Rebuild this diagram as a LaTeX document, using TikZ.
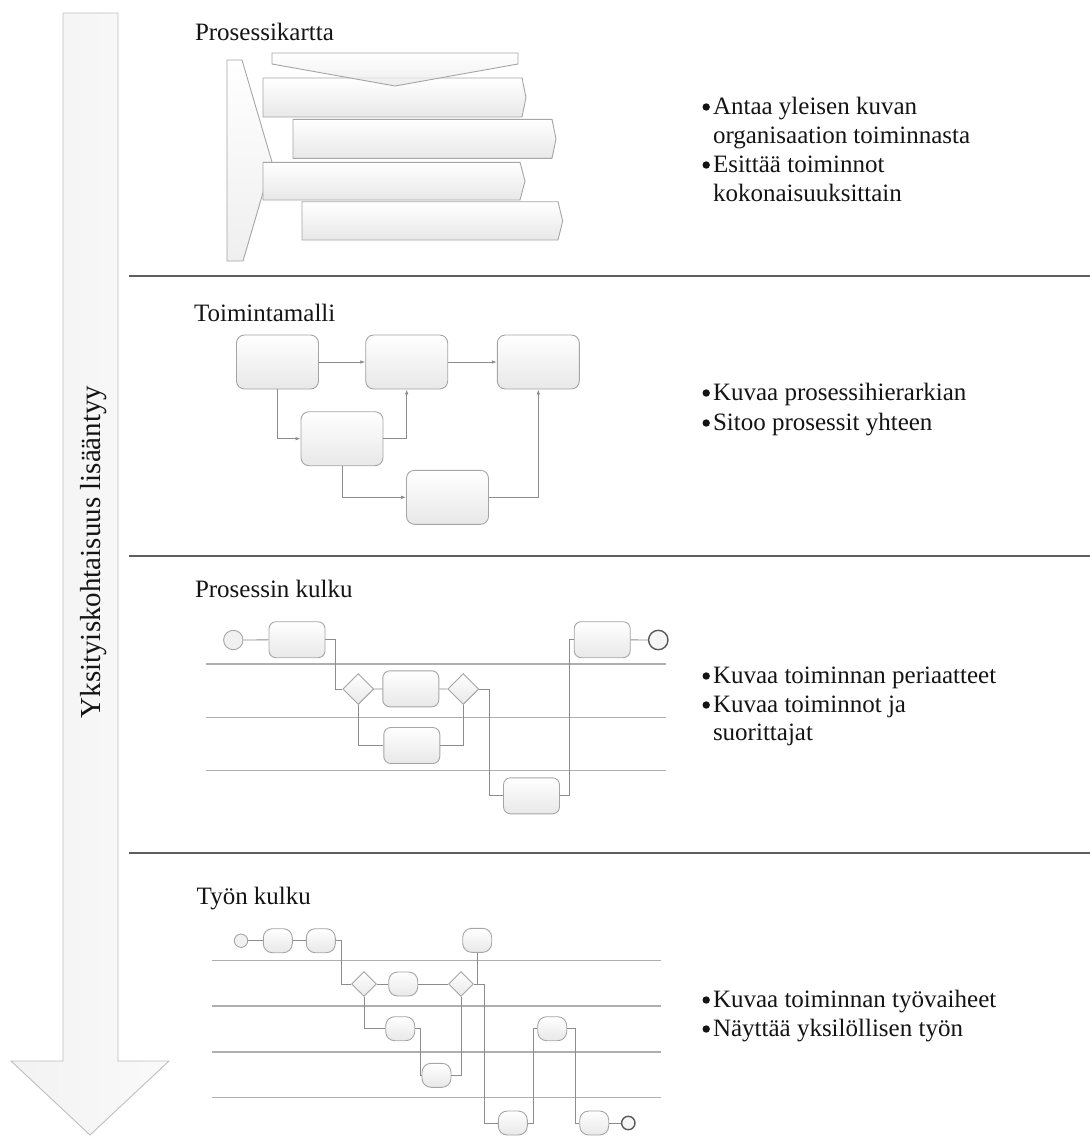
\documentclass[tikz,border=0pt]{standalone}
\usepackage{fontspec}
\setmainfont{Liberation Serif}
\usetikzlibrary{shapes.geometric,arrows.meta}

\definecolor{shapeline}{RGB}{165,165,165}
\definecolor{shapefill}{RGB}{232,232,232}
\definecolor{flowline}{RGB}{140,140,140}
\definecolor{laneline}{RGB}{175,175,175}
\definecolor{sepline}{RGB}{95,95,95}
\definecolor{bigarrow}{RGB}{190,190,190}

\begin{document}
\begin{tikzpicture}[x=1pt,y=-1pt,
  txt/.style={anchor=base west, inner sep=0pt, outer sep=0pt,
    font=\fontsize{25}{30}\selectfont, text=black!92},
  dot/.style={fill=black!92},
  soft/.style={draw=shapeline, line width=0.9pt, top color=white, bottom color=shapefill},
  tmbox/.style={soft, rectangle, rounded corners=8pt, inner sep=0pt,
    minimum width=82pt, minimum height=54pt},
  pkbox/.style={soft, rectangle, rounded corners=7pt, inner sep=0pt,
    minimum width=56pt, minimum height=36pt},
  tkbox/.style={soft, rectangle, rounded corners=9pt, inner sep=0pt,
    minimum width=29pt, minimum height=24pt},
  gate/.style={soft, diamond, aspect=1, inner sep=0pt,
    minimum width=#1, minimum height=#1},
  startev/.style={draw=shapeline, line width=0.9pt, fill=shapefill!60, circle,
    inner sep=0pt, minimum size=#1},
  endev/.style={draw=black!65, line width=1.4pt, fill=shapefill!40, circle,
    inner sep=0pt, minimum size=#1},
  flow/.style={draw=flowline, line width=0.8pt},
  arr/.style={flow, -{Latex[length=5pt,width=3.6pt]}},
  lane/.style={draw=laneline, line width=1.1pt},
  sep/.style={draw=sepline, line width=2.3pt}
]
\useasboundingbox (0,0) rectangle (1090,1136);

% ---------- big downward arrow ----------
\path[draw=bigarrow, line width=0.9pt, left color=black!5, right color=black!2]
  (63,13) -- (118,13) -- (118,1061) -- (169,1061) -- (90,1135)
  -- (11,1061) -- (63,1061) -- cycle;
\node[anchor=base, rotate=90, inner sep=0pt,
  font=\fontsize{29}{34}\selectfont, text=black!92] (axis) at (100.7,552)
  {Yksityiskohtaisuus lisääntyy};

% ---------- section separators ----------
\draw[sep] (129,276) -- (1090,276);
\draw[sep] (129,556) -- (1090,556);
\draw[sep] (129,853) -- (1090,853);

% ---------- Prosessikartta ----------
\node[txt] (t1) at (195,40) {Prosessikartta};
\path[soft, top color=white, bottom color=shapefill!70]
  (227,60) -- (242,60) -- (272,162) -- (243,261) -- (227,261) -- cycle;
\path[soft] (263,78) -- (522,78) -- (526,97.5) -- (522,117) -- (263,117) -- cycle;
\path[soft] (293,119.3) -- (552,119.3) -- (556,139) -- (552,158.3) -- (293,158.3) -- cycle;
\path[soft] (263,162.3) -- (520,162.3) -- (525,181) -- (520,200) -- (263,200) -- cycle;
\path[soft] (302,201.7) -- (558,201.7) -- (562.7,221) -- (558,240) -- (302,240) -- cycle;
\path[soft, fill opacity=0.75]
  (272,53) -- (518,53) -- (518,64) -- (395,86) -- (272,64) -- cycle;

\node[txt] (l1a) at (713,114) {Antaa yleisen kuvan};
\node[txt] (l1b) at (713,143) {organisaation toiminnasta};
\node[txt] (l1c) at (713,172) {Esittää toiminnot};
\node[txt] (l1d) at (713,201) {kokonaisuuksittain};

% ---------- Toimintamalli ----------
\node[txt] (t2) at (194,321.5) {Toimintamalli};
\node[tmbox] (A) at (277.5,362) {};
\node[tmbox] (B) at (406.7,362) {};
\node[tmbox] (C) at (538.3,362) {};
\node[tmbox] (D) at (342,438.7) {};
\node[tmbox] (E) at (447.5,497.3) {};
\draw[arr] (A) -- (B);
\draw[arr] (B) -- (C);
\draw[arr] (A.south) |- (D.west);
\draw[arr] (D.east) -| (B.south);
\draw[arr] (D.south) |- (E.west);
\draw[arr] (E.east) -| (C.south);

\node[txt] (l2a) at (713,400) {Kuvaa prosessihierarkian};
\node[txt] (l2b) at (713,430) {Sitoo prosessit yhteen};

% ---------- Prosessin kulku ----------
\node[txt] (t3) at (195,597) {Prosessin kulku};
\draw[lane] (206,664) -- (666,664);
\draw[lane] (206,717.3) -- (666,717.3);
\draw[lane] (206,770.7) -- (666,770.7);

\node[startev=19.4pt] (s1) at (233.3,640) {};
\node[pkbox] (p1) at (297,639.7) {};
\node[gate=31pt] (g1) at (358.3,689) {};
\node[pkbox] (p2) at (410.8,688.8) {};
\node[gate=31pt] (g2) at (463.3,689) {};
\node[pkbox] (p3) at (411.8,745.5) {};
\node[pkbox] (p4) at (531.5,795.8) {};
\node[pkbox] (p5) at (602.2,639.7) {};
\node[endev=19.4pt] (e1) at (658.3,640) {};

\draw[flow] (s1) -- (p1);
\draw[flow] (p1.east) -- ++(10,0) |- (g1.west);
\draw[flow] (g1) -- (p2);
\draw[flow] (p2) -- (g2);
\draw[flow] (g1.south) |- (p3.west);
\draw[flow] (p3.east) -| (g2.south);
\draw[flow] (g2.east) -- ++(10,0) |- (p4.west);
\draw[flow] (p4.east) -- ++(9.3,0) |- (p5.west);
\draw[flow] (p5) -- (e1);

\node[txt] (l3a) at (713,683) {Kuvaa toiminnan periaatteet};
\node[txt] (l3b) at (713,712) {Kuvaa toiminnot ja};
\node[txt] (l3c) at (713,740) {suorittajat};

% ---------- Työn kulku ----------
\node[txt] (t4) at (196.7,904) {Työn kulku};
\draw[lane] (211.7,960.7) -- (661,960.7);
\draw[lane] (211.7,1006) -- (661,1006);
\draw[lane] (211.7,1052) -- (661,1052);
\draw[lane] (211.7,1097.3) -- (661,1097.3);

\node[startev=13.4pt] (s2) at (241,940.7) {};
\node[tkbox] (ta) at (277.8,940.7) {};
\node[tkbox] (tb) at (320.8,940.7) {};
\node[gate=25pt] (tg1) at (364,984) {};
\node[tkbox] (tc) at (403.2,984) {};
\node[gate=25pt] (tg2) at (461,984) {};
\node[tkbox] (td) at (477.2,940.3) {};
\node[tkbox] (te) at (400.2,1028.7) {};
\node[tkbox] (tf) at (436.5,1075.3) {};
\node[tkbox] (tx) at (512.8,1123) {};
\node[tkbox] (th) at (552.2,1028.7) {};
\node[tkbox] (ti) at (594.2,1123) {};
\node[endev=13.4pt] (e2) at (628.3,1123) {};

\draw[flow] (s2) -- (ta);
\draw[flow] (ta) -- (tb);
\draw[flow] (tb.east) -- ++(6,0) |- (tg1.west);
\draw[flow] (tg1) -- (tc);
\draw[flow] (tc) -- (tg2);
\draw[flow] (td.south) -- (td.south |- tg2.east);
\draw[flow] (tg2.east) -- ++(10.5,0) |- (tx.west);
\draw[flow] (tg1.south) |- (te.west);
\draw[flow] (te.east) -- ++(5,0) |- (tf.west);
\draw[flow] (tf.east) -| (tg2.south);
\draw[flow] (tx.east) -- ++(5.6,0) |- (th.west);
\draw[flow] (th.east) -- ++(8.3,0) |- (ti.west);
\draw[flow] (ti) -- (e2);

\node[txt] (l4a) at (713,1007) {Kuvaa toiminnan työvaiheet};
\node[txt] (l4b) at (713,1036) {Näyttää yksilöllisen työn};

% ---------- list bullets in front of the item lines ----------
\foreach \item in {l1a,l1c,l2a,l2b,l3a,l3b,l4a,l4b}
  \fill[dot] (\item.base west) ++(-6.8,-7) circle[radius=3.7pt];

\end{tikzpicture}
\end{document}
